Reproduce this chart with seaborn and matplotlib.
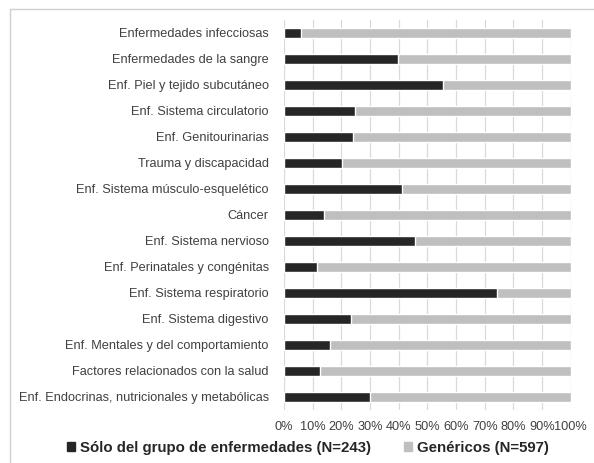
import matplotlib.pyplot as plt
import matplotlib.ticker as mticker
import pandas as pd
import seaborn as sns
from matplotlib.lines import Line2D
from matplotlib.patches import Patch

categories = [
    "Enfermedades infecciosas",
    "Enfermedades de la sangre",
    "Enf. Piel y tejido subcutáneo",
    "Enf. Sistema circulatorio",
    "Enf. Genitourinarias",
    "Trauma y discapacidad",
    "Enf. Sistema músculo-esquelético",
    "Cáncer",
    "Enf. Sistema nervioso",
    "Enf. Perinatales y congénitas",
    "Enf. Sistema respiratorio",
    "Enf. Sistema digestivo",
    "Enf. Mentales y del comportamiento",
    "Factores relacionados con la salud",
    "Enf. Endocrinas, nutricionales y metabólicas",
]
solo_grupo = [6.0, 39.8, 55.5, 24.9, 24.2, 20.3, 41.3, 14.0, 45.7, 11.6, 74.3, 23.4, 16.2, 12.6, 29.9]
genericos = [100 - v for v in solo_grupo]
series_names = ["Sólo del grupo de enfermedades (N=243)", "Genéricos (N=597)"]
xticks = [i / 10 for i in range(11)]

DARK = "#262626"
LIGHT = "#bfbfbf"

sns.set_theme(style="white")
plt.rcParams["font.family"] = ["Liberation Sans", "DejaVu Sans"]

df = pd.DataFrame({"cat": categories, "solo": solo_grupo, "gen": genericos})
df["total"] = (df["solo"] + df["gen"]) / 100
df["solo_frac"] = df["solo"] / 100

fig = plt.figure(figsize=(5.94, 4.63), dpi=100)
ax = fig.add_axes([0.478, 0.115, 0.483, 0.842])

# stacked bars: light total first, dark part on top
sns.barplot(data=df, x="total", y="cat", color=LIGHT, width=0.4, saturation=1, ax=ax, orient="h")
sns.barplot(data=df, x="solo_frac", y="cat", color=DARK, width=0.4, saturation=1, ax=ax, orient="h")

ax.set(xlim=(0, 1), ylim=(len(categories) - 0.5, -0.5))
ax.xaxis.set_major_locator(mticker.FixedLocator(xticks))
ax.set_xticklabels([f"{x:.0%}" for x in xticks])
ax.grid(axis="x", color="#d9d9d9", linewidth=0.9)
ax.set_axisbelow(True)
for s in ax.spines.values():
    s.set_visible(False)
ax.tick_params(axis="both", length=0, labelsize=9.2, colors="#404040")
ax.tick_params(axis="y", pad=11)
ax.tick_params(axis="x", pad=8)
ax.set_xlabel("")
ax.set_ylabel("")

handles = [Patch(color=DARK), Patch(color=LIGHT)]
fig.legend(handles, series_names, loc="center", bbox_to_anchor=(0.518, 0.032), ncol=2,
           frameon=False, handlelength=0.55, handleheight=0.55, handletextpad=0.3,
           columnspacing=2.2, prop={"weight": "bold", "size": 10.8})
for t in fig.legends[0].get_texts():
    t.set_color("#262626")

# chart frame: only its top and left edges fall inside the picture
W, H = 594, 463
fig.lines.append(Line2D([10 / W, 10 / W], [0, 1 - 9 / H], transform=fig.transFigure,
                        color="#d0d0d0", linewidth=1))
fig.lines.append(Line2D([10 / W, 1], [1 - 9 / H, 1 - 9 / H], transform=fig.transFigure,
                        color="#d0d0d0", linewidth=1))

fig.savefig("out.png", dpi=100)
